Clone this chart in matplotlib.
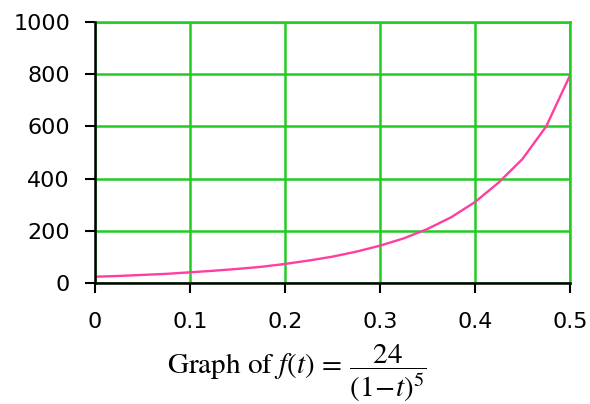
import numpy as np
import matplotlib.pyplot as plt

# values
t_vals = [0.0, 0.025, 0.05, 0.075, 0.1, 0.125, 0.15, 0.175, 0.2, 0.225, 0.25,
          0.275, 0.3, 0.325, 0.35, 0.375, 0.4, 0.425, 0.45, 0.475, 0.5]
f_vals = [24, 27, 31, 35, 41, 47, 54, 62, 73, 86, 101,
          120, 143, 171, 207, 252, 310, 385, 475, 600, 795]
x_ticks = [0, 0.1, 0.2, 0.3, 0.4, 0.5]
x_labels = ['0', '0.1', '0.2', '0.3', '0.4', '0.5']
y_ticks = [0, 200, 400, 600, 800, 1000]

grid_green = '#22cc22'
pink = '#ff3fa0'

plt.rcParams['mathtext.fontset'] = 'stix'

fig = plt.figure(figsize=(5.9, 4.04), dpi=100)
ax = fig.add_axes([0.161, 0.2995, 0.805, 0.646])

ax.plot(t_vals, f_vals, color=pink, lw=1.7, zorder=3)

ax.set_xlim(0, 0.5)
ax.set_ylim(0, 1000)
ax.set_xticks(x_ticks)
ax.set_xticklabels(x_labels)
ax.set_yticks(y_ticks)
ax.grid(True, color=grid_green, lw=1.8)
ax.set_axisbelow(True)

for side in ['top', 'right']:
    ax.spines[side].set_color(grid_green)
    ax.spines[side].set_linewidth(1.8)
for side in ['left', 'bottom']:
    ax.spines[side].set_color('black')
    ax.spines[side].set_linewidth(1.8)
    ax.spines[side].set_zorder(4)

ax.tick_params(direction='out', length=7, width=1.5, color='black',
               labelsize=16)
ax.tick_params(axis='x', pad=14)
ax.tick_params(axis='y', pad=11)

fig.text(0.503, 0.075,
         r'Graph of $f(t)\,=\,\dfrac{24}{(1\!-\!t)^5}$',
         ha='center', va='center', fontsize=21, family='STIXGeneral')

fig.savefig('out.png', dpi=100)
